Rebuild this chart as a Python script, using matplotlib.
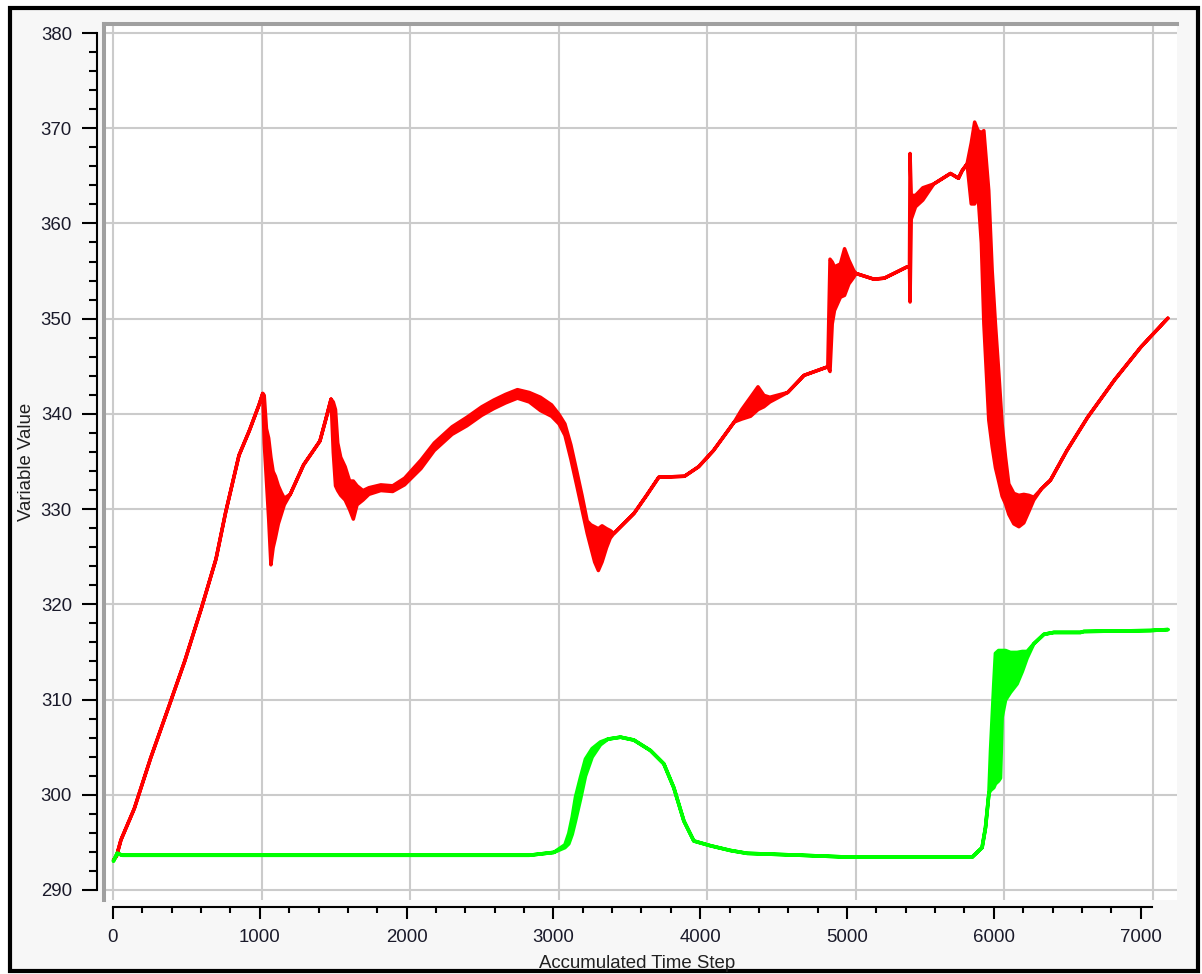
import matplotlib
matplotlib.use("Agg")
import matplotlib.pyplot as plt
from matplotlib.patches import Rectangle
from matplotlib.ticker import MultipleLocator
import numpy as np

# ---------------- data ----------------
red_x = [0, 20, 50, 140, 250, 370, 480, 595, 690, 755, 845, 915, 980, 1005,
         1015, 1030, 1045, 1060, 1075, 1090, 1110, 1130, 1150, 1190, 1280, 1390,
         1430, 1465, 1480, 1495, 1510, 1530, 1560, 1590, 1615, 1640, 1680, 1720,
         1800, 1880, 1960, 2070, 2160, 2280, 2380, 2480, 2560, 2640, 2720, 2800,
         2875, 2950, 3000, 3040, 3080, 3120, 3155, 3190, 3215, 3240, 3265, 3290,
         3320, 3345, 3370, 3505, 3590, 3672, 3845, 3940, 4040, 4180, 4230, 4290,
         4340, 4380, 4420, 4540, 4650, 4810, 4825, 4840, 4855, 4895, 4923, 4952,
         4985, 5000, 5060, 5120, 5190, 5255, 5345, 5360, 5364, 5372, 5401, 5450,
         5524, 5636, 5690, 5715, 5748, 5776, 5799, 5822, 5844, 5861, 5894, 5917,
         5939, 5962, 5984, 6007, 6029, 6063, 6097, 6130, 6164, 6197, 6250, 6310,
         6420, 6560, 6740, 6920, 7100]
red_lo = [293.2, 293.6, 295.3, 298.6, 303.9, 309.2, 314.1, 319.8, 324.8, 329.7, 335.7, 338.3, 341.0, 342.2,
          337.0, 333.0, 329.0, 324.2, 326.0, 327.0, 328.5, 329.5, 330.5, 331.6, 334.7, 337.2,
          339.5, 341.6, 336.0, 332.5, 332.0, 331.5, 331.0, 330.0, 329.0, 330.5, 331.0, 331.6,
          332.0, 331.9, 332.6, 334.3, 336.2, 337.9, 338.8, 339.9, 340.6, 341.2, 341.7, 341.3,
          340.4, 339.8, 339.0, 337.8, 335.3, 332.5, 330.0, 327.5, 326.0, 324.5, 323.6, 324.5,
          326.0, 327.0, 327.5, 329.6, 331.5, 333.4, 333.5, 334.5, 336.2, 339.2, 339.5, 339.8,
          340.5, 340.8, 341.3, 342.3, 344.1, 345.0, 344.5, 349.5, 350.9, 352.3, 352.5, 353.7,
          354.4, 354.8, 354.5, 354.2, 354.3, 354.8, 355.5, 355.5, 351.8, 360.5, 361.8, 362.5,
          364.2, 365.3, 364.8, 365.6, 366.3, 362.1, 362.1, 363.0, 358.0, 349.5, 339.4, 336.6,
          334.4, 332.9, 331.4, 330.6, 329.5, 328.5, 328.2, 328.6, 329.8, 331.0, 332.2, 333.1,
          336.2, 339.7, 343.6, 347.1, 350.1]
red_hi = [293.2, 293.6, 295.3, 298.6, 303.9, 309.2, 314.1, 319.8, 324.8, 329.7, 335.7, 338.3, 341.0, 342.2,
          342.0, 338.5, 337.5, 335.5, 334.0, 333.5, 332.5, 331.8, 331.2, 331.6, 334.7, 337.2,
          339.5, 341.6, 341.3, 340.5, 337.0, 335.5, 334.5, 333.0, 333.0, 332.5, 332.0, 332.3,
          332.6, 332.5, 333.3, 335.2, 337.0, 338.7, 339.7, 340.8, 341.5, 342.1, 342.6, 342.3,
          341.8, 341.0, 340.0, 339.0, 336.8, 334.0, 331.5, 328.8, 328.4, 328.2, 328.0, 328.3,
          328.0, 327.8, 327.5, 329.6, 331.5, 333.4, 333.5, 334.5, 336.2, 339.2, 340.5, 341.8,
          342.9, 342.0, 341.8, 342.3, 344.1, 345.0, 356.3, 356.0, 355.5, 355.8, 357.4, 356.2,
          355.1, 354.8, 354.5, 354.2, 354.3, 354.8, 355.5, 355.5, 367.4, 363.0, 363.0, 363.8,
          364.2, 365.3, 364.8, 365.6, 366.3, 368.5, 370.7, 369.8, 369.6, 369.8, 363.5, 355.1,
          349.5, 344.3, 339.0, 335.5, 332.7, 331.7, 331.5, 331.6, 331.5, 331.3, 332.2, 333.1,
          336.2, 339.7, 343.6, 347.1, 350.1]

green_x = [0, 25, 60, 2800, 2965, 3040, 3066, 3089, 3111, 3145, 3178, 3223, 3279,
           3330, 3414, 3504, 3616, 3706, 3773, 3841, 3908, 4020, 4155, 4267, 4630,
           4960, 5782, 5849, 5872, 5895, 5906, 5928, 5939, 5960, 5973, 5984, 6007,
           6040, 6085, 6120, 6152, 6197, 6265, 6332, 6512, 6534, 6983, 7100]
green_lo = [293.1, 293.9, 293.7, 293.7, 294.0, 294.5, 294.9, 295.9, 297.3, 299.6, 302.0, 304.0, 305.3,
            305.9, 306.1, 305.8, 304.7, 303.3, 300.8, 297.3, 295.2, 294.7, 294.2, 293.9, 293.7,
            293.5, 293.5, 294.5, 296.6, 300.2, 300.5, 300.8, 301.2, 301.5, 301.8, 308.2, 310.0,
            310.8, 311.7, 313.0, 314.4, 315.9, 316.9, 317.1, 317.1, 317.2, 317.3, 317.4]
green_hi = [293.1, 293.9, 293.7, 293.7, 294.0, 294.8, 296.0, 297.7, 299.8, 301.9, 303.8, 304.9, 305.6,
            305.9, 306.1, 305.8, 304.7, 303.3, 300.8, 297.3, 295.2, 294.7, 294.2, 293.9, 293.7,
            293.5, 293.5, 294.5, 296.6, 300.2, 304.7, 311.7, 314.9, 315.2, 315.2, 315.2, 315.2,
            315.0, 315.0, 315.1, 315.1, 315.9, 316.9, 317.1, 317.1, 317.2, 317.3, 317.4]

y_ticks = list(range(290, 381, 10))
x_ticks = list(range(0, 7001, 1000))
x_label = "Accumulated Time Step"
y_label = "Variable Value"

# ---------------- figure ----------------
W, H = 1202, 974
plt.rcParams['font.family'] = ['Liberation Sans', 'DejaVu Sans']
fig = plt.figure(figsize=(W / 100, H / 100), dpi=100, facecolor='white')


def fx(px):
    return px / W


def fy(py):
    return 1 - py / H


# outer frame
frame = Rectangle((fx(10), fy(971)), fx(1198) - fx(10), fy(8) - fy(971),
                  transform=fig.transFigure, facecolor='#f7f7f7',
                  edgecolor='black', linewidth=3.0, zorder=-10)
fig.add_artist(frame)

# main plotting area
left, right, top, bottom = 104, 1177, 24, 900
ax = fig.add_axes([fx(left), fy(bottom), fx(right) - fx(left), fy(top) - fy(bottom)])
ax.set_zorder(1)
ax.set_facecolor('white')
xs_per_px = 1000 / 148.5
ax.set_xlim((left - 113) * xs_per_px, (right - 113) * xs_per_px)
ys_per_px = 10 / 95.22
ax.set_ylim(380 - (bottom - 33) * ys_per_px, 380 + (33 - top) * ys_per_px)
ax.set_xticks(x_ticks)
ax.set_yticks(y_ticks)
ax.tick_params(length=0, labelbottom=False, labelleft=False)
ax.grid(True, color='#cbcbcb', linewidth=1.5)
ax.set_axisbelow(True)
for s in ['right', 'bottom']:
    ax.spines[s].set_visible(False)
for s in ['top', 'left']:
    ax.spines[s].set_color('#a0a0a0')
    ax.spines[s].set_linewidth(2.9)

ax.fill_between(red_x, red_lo, red_hi, facecolor='#ff0000', edgecolor='#ff0000',
                linewidth=2.5, joinstyle='round', zorder=3)
ax.fill_between(green_x, green_lo, green_hi, facecolor='#00ff00', edgecolor='#00ff00',
                linewidth=2.6, joinstyle='round', zorder=4)

tick_color = '#1a1a2a'

# y axis (separate, to the left)
axy = fig.add_axes([fx(97), fy(bottom), 0.0005, fy(top) - fy(bottom)])
axy.set_zorder(2)
axy.set_ylim(ax.get_ylim())
axy.patch.set_visible(False)
for s in ['right', 'top', 'bottom']:
    axy.spines[s].set_visible(False)
axy.spines['left'].set_bounds(290, 380)
axy.spines['left'].set_linewidth(1.5)
axy.set_xticks([])
axy.set_yticks(y_ticks)
axy.yaxis.set_minor_locator(MultipleLocator(2))
axy.tick_params(axis='y', which='major', length=10.8, width=1.5, pad=7.2,
                labelsize=13.4, labelcolor=tick_color)
axy.tick_params(axis='y', which='minor', length=5.6, width=1.5)

# x axis (separate, below)
x_end_px = 1152
axx = fig.add_axes([fx(113), fy(907), fx(x_end_px) - fx(113), 0.0005])
axx.set_zorder(2)
axx.set_xlim(0, (x_end_px - 113) * 1000 / 146.8)
axx.patch.set_visible(False)
for s in ['left', 'right', 'top']:
    axx.spines[s].set_visible(False)
axx.spines['bottom'].set_linewidth(1.5)
axx.set_yticks([])
axx.set_xticks(x_ticks)
axx.xaxis.set_minor_locator(MultipleLocator(200))
axx.tick_params(axis='x', which='major', length=8.9, width=1.5, pad=7,
                labelsize=13.4, labelcolor=tick_color)
axx.tick_params(axis='x', which='minor', length=4.2, width=1.5)

fig.text(fx(637), fy(963), x_label, ha='center', va='center', fontsize=13.4,
         color='#202020', zorder=5)
fig.text(fx(27), fy(462), y_label, ha='center', va='center', rotation=90,
         fontsize=13.4, color='#202020', zorder=5)

fig.savefig('out.png', dpi=100, facecolor='white')
